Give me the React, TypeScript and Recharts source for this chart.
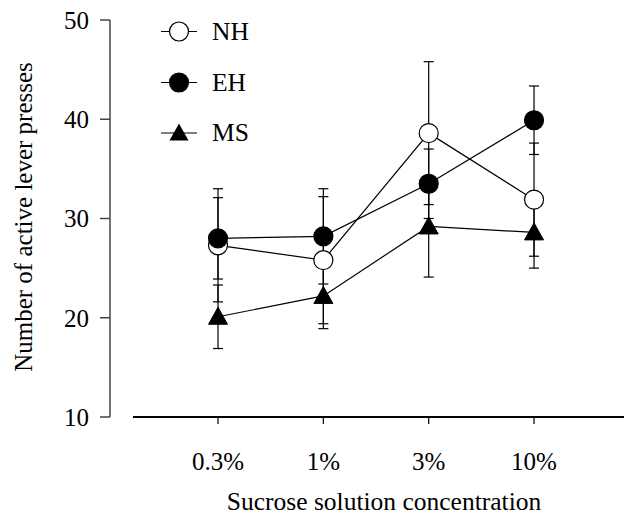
import React from 'react';
import { ComposedChart, Line, XAxis, YAxis, ErrorBar, Customized } from 'recharts';

const categories = ['0.3%', '1%', '3%', '10%'];
const nhMean = [27.3, 25.8, 38.6, 31.9];
const nhErr = [5.7, 6.4, 7.2, 5.7];
const ehMean = [28.0, 28.2, 33.5, 39.9];
const ehErr = [4.1, 4.8, 3.5, 3.45];
const msMean = [20.1, 22.2, 29.2, 28.6];
const msErr = [3.2, 3.3, 5.1, 3.6];
const yTicks = [10, 20, 30, 40, 50];
const seriesNames = ['NH', 'EH', 'MS'];

const rows = categories.map((c, i) => ({
  x: i + 1,
  label: c,
  nh: nhMean[i],
  nhErr: nhErr[i],
  eh: ehMean[i],
  ehErr: ehErr[i],
  ms: msMean[i],
  msErr: msErr[i],
}));

const FONT = '"Liberation Serif", "Times New Roman", serif';
const R = 9.5;

const OpenCircle = (p: any) => (
  <circle key={p.key} cx={p.cx} cy={p.cy} r={R} fill="#fff" stroke="#000" strokeWidth={1.2} />
);
const FilledCircle = (p: any) => (
  <circle key={p.key} cx={p.cx} cy={p.cy} r={R} fill="#000" stroke="#000" strokeWidth={1.2} />
);
const Triangle = (p: any) => (
  <path
    key={p.key}
    d={`M${p.cx},${p.cy - 9.5} L${p.cx + 9.5},${p.cy + 7.5} L${p.cx - 9.5},${p.cy + 7.5} Z`}
    fill="#000"
    stroke="#000"
    strokeWidth={1}
  />
);

const LegendSvg = () => {
  const markers = [
    (cx: number, cy: number) => <circle cx={cx} cy={cy} r={R} fill="#fff" stroke="#000" strokeWidth={1.2} />,
    (cx: number, cy: number) => <circle cx={cx} cy={cy} r={R} fill="#000" stroke="#000" strokeWidth={1.2} />,
    (cx: number, cy: number) => (
      <path d={`M${cx},${cy - 9.5} L${cx + 9.5},${cy + 7.5} L${cx - 9.5},${cy + 7.5} Z`} fill="#000" />
    ),
  ];
  const ys = [31.5, 82.5, 133];
  return (
    <g>
      {seriesNames.map((n, i) => (
        <g key={n}>
          <line x1={161} x2={197} y1={ys[i]} y2={ys[i]} stroke="#000" strokeWidth={1.2} />
          {markers[i](179, ys[i])}
          <text x={212} y={ys[i] + 8} fontFamily={FONT} fontSize={25.5} fill="#000">
            {n}
          </text>
        </g>
      ))}
    </g>
  );
};

const YLabel = () => (
  <text
    x={32}
    y={217}
    transform="rotate(-90 32 217)"
    textAnchor="middle"
    fontFamily={FONT}
    fontSize={25}
    fill="#000"
  >
    Number of active lever presses
  </text>
);

export default function App() {
  return (
    <div style={{ position: 'absolute', left: 0, top: 0, width: 624, height: 515, background: '#fff' }}>
      <ComposedChart width={624} height={515} data={rows} margin={{ top: 20, right: 0, bottom: 0, left: 0 }}>
        <XAxis
          dataKey="x"
          type="number"
          domain={[-0.0253, 4.854]}
          allowDataOverflow
          ticks={[1, 2, 3, 4]}
          tickFormatter={(v: number) => categories[v - 1]}
          height={98}
          tickSize={7}
          tickMargin={28}
          axisLine={{ stroke: '#000', strokeWidth: 2, strokeDasharray: '0 23 700' }}
          tickLine={{ stroke: '#000', strokeWidth: 1.2 }}
          tick={{ fill: '#000', fontFamily: FONT, fontSize: 25 }}
          label={{ value: 'Sucrose solution concentration', position: 'insideBottom', offset: 5, dx: 17, fill: '#000', fontFamily: FONT, fontSize: 25.5 }}
        />
        <YAxis
          type="number"
          domain={[10, 50]}
          ticks={yTicks}
          width={110}
          tickSize={10}
          tickMargin={11}
          axisLine={{ stroke: '#444', strokeWidth: 1.5 }}
          tickLine={{ stroke: '#444', strokeWidth: 1.5 }}
          tick={{ fill: '#000', fontFamily: FONT, fontSize: 25 }}
        />
        <Line dataKey="nh" stroke="#000" strokeWidth={1.2} dot={OpenCircle} isAnimationActive={false}>
          <ErrorBar dataKey="nhErr" width={5} stroke="#000" strokeWidth={1.2} direction="y" />
        </Line>
        <Line dataKey="eh" stroke="#000" strokeWidth={1.2} dot={FilledCircle} isAnimationActive={false}>
          <ErrorBar dataKey="ehErr" width={5} stroke="#000" strokeWidth={1.2} direction="y" />
        </Line>
        <Line dataKey="ms" stroke="#000" strokeWidth={1.2} dot={Triangle} isAnimationActive={false}>
          <ErrorBar dataKey="msErr" width={5} stroke="#000" strokeWidth={1.2} direction="y" />
        </Line>
        <Customized component={LegendSvg} />
        <Customized component={YLabel} />
      </ComposedChart>
    </div>
  );
}
